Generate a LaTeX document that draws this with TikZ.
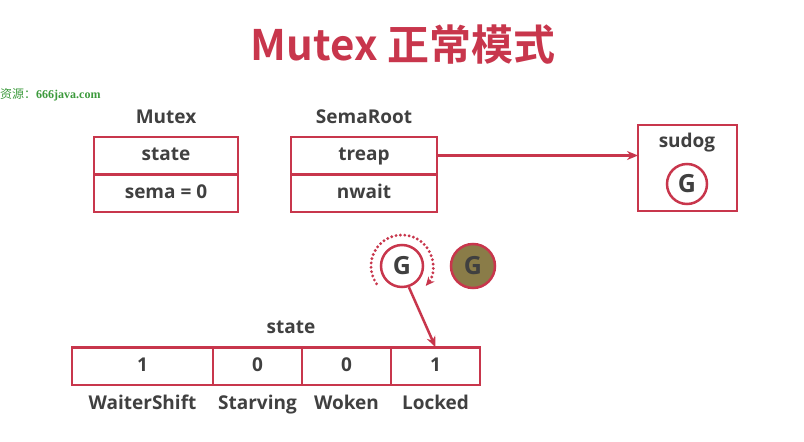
\documentclass[tikz,border=0pt]{standalone}
\usepackage{fontspec}
\setmainfont{Open Sans}
\newfontfamily\cjk{Noto Sans CJK SC}[BoldFont={Noto Sans CJK SC Bold}]
\newfontfamily\markserif{Liberation Serif}
\usetikzlibrary{positioning,arrows.meta}
\definecolor{mred}{HTML}{C8364C}
\definecolor{mtext}{HTML}{404040}
\definecolor{gbrown}{HTML}{8A7C48}
\definecolor{wmgreen}{HTML}{3C9A3C}
\tikzset{
  cell/.style={draw=mred, line width=2.5pt, outer sep=0pt, inner sep=0pt,
    minimum height=37.5pt, text=mtext, text height=14pt, text depth=4pt,
    font=\bfseries\fontsize{19}{19}\selectfont},
  caption/.style={text=mtext, text height=14pt, text depth=4pt,
    font=\bfseries\fontsize{19}{19}\selectfont},
  gnode/.style={circle, draw=mred, line width=2.5pt, minimum size=42pt,
    inner sep=0pt, text=mtext, font=\bfseries\fontsize{25}{25}\selectfont},
  link/.style={draw=mred, line width=2.5pt, -{Stealth[length=11pt,width=9pt]}}
}
\begin{document}
\begin{tikzpicture}[x=1pt, y=-1pt]
  \useasboundingbox (0,0) rectangle (804,442);

  \node (Title) at (403,45) {\cjk\bfseries\fontsize{42}{42}\selectfont\color{mred}Mutex 正常模式};
  \node[anchor=west, inner sep=0pt] (Mark) at (0,95) {\color{wmgreen}\cjk\fontsize{12}{12}\selectfont 资源：\markserif\bfseries 666java.com};

  % Mutex and SemaRoot
  \node[caption] (MutexName) at (166,118) {Mutex};
  \node[cell, minimum width=144pt] (MState) at (166,155.5) {state};
  \node[cell, minimum width=144pt, below=0pt of MState] (MSema) {sema = 0};

  \node[caption] (RootName) at (364,118) {SemaRoot};
  \node[cell, minimum width=146pt] (Treap) at (364,155.5) {treap};
  \node[cell, minimum width=146pt, below=0pt of Treap] (NWait) {nwait};

  % sudog
  \node[cell, minimum width=99pt, minimum height=86pt] (Sudog) at (687.5,168) {};
  \node[caption] (SudogName) at (687,142) {sudog};
  \node[gnode, minimum size=40pt] (SudogG) at (687,184) {G};
  \draw[link] (Treap.east) -- (Sudog.west |- Treap.east);

  % goroutines
  \node[gnode] (GSpin) at (402,266) {G};
  \node[gnode, fill=gbrown, minimum size=44pt] (GWait) at (473,266) {G};
  \draw[mred, line width=3.2pt, line cap=round, dash pattern=on 0pt off 4.4pt,
    -{Stealth[length=9pt,width=8pt]}]
    (GSpin.center) ++(215:31pt) arc[start angle=215, end angle=-40, radius=31pt];

  % state bits
  \node[caption] (StateName) at (291,328) {state};
  \node[cell, minimum width=141pt] (Shift) at (142.5,366) {1};
  \node[cell, minimum width=89pt, right=0pt of Shift] (Starving) {0};
  \node[cell, minimum width=89pt, right=0pt of Starving] (Woken) {0};
  \node[cell, minimum width=89pt, right=0pt of Woken] (Locked) {1};
  \node[caption] at (Shift |- 0,404) {WaiterShift};
  \node[caption] at (Starving |- 0,404) {Starving};
  \node[caption] at (Woken |- 0,404) {Woken};
  \node[caption] at (Locked |- 0,404) {Locked};
  \draw[link] (GSpin.-72) -- (Locked.north);
\end{tikzpicture}
\end{document}
